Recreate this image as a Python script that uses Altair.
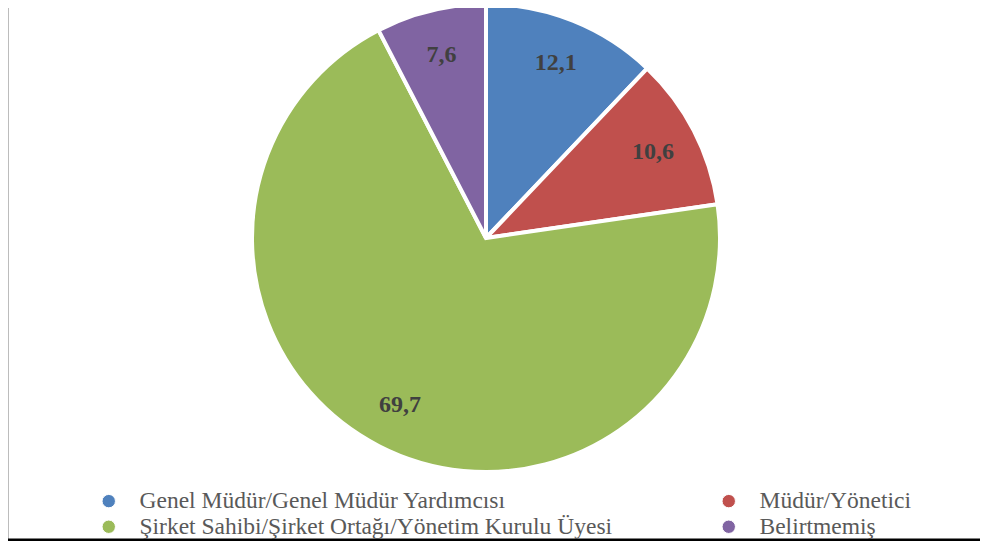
import altair as alt
import pandas as pd

categories = [
    "Genel Müdür/Genel Müdür Yardımcısı",
    "Müdür/Yönetici",
    "Şirket Sahibi/Şirket Ortağı/Yönetim Kurulu Üyesi",
    "Belirtmemiş",
]
values = [12.1, 10.6, 69.7, 7.6]
labels = ["12,1", "10,6", "69,7", "7,6"]
colors = ["#4F81BD", "#C0504D", "#9BBB59", "#8064A2"]

# legend is laid out column by column: put entries so rows read as in the reference
legend_order = [categories[0], categories[2], categories[1], categories[3]]
legend_colors = [colors[0], colors[2], colors[1], colors[3]]

df = pd.DataFrame({
    "cat": categories,
    "value": values,
    "label": labels,
    "order": list(range(len(categories))),
})

W, H = 972, 533
CX, CY = 478, 230

base = alt.Chart(df).encode(
    theta=alt.Theta("value:Q", stack=True),
    order=alt.Order("order:Q"),
    x=alt.value(CX),
    y=alt.value(CY),
)

pie = base.mark_arc(outerRadius=234, stroke="white", strokeWidth=4).encode(
    color=alt.Color(
        "cat:N",
        scale=alt.Scale(domain=legend_order, range=legend_colors),
        legend=alt.Legend(
            title=None,
            orient="none",
            legendX=89,
            legendY=481,
            columns=2,
            columnPadding=104,
            rowPadding=1,
            symbolType="circle",
            symbolSize=180,
            symbolStrokeColor="white",
            symbolStrokeWidth=1,
            labelFont="Liberation Serif",
            labelFontSize=23.5,
            labelColor="#595959",
            labelOffset=19,
            labelLimit=0,
        ),
    )
)

text = base.mark_text(
    radius=188,
    font="Liberation Serif",
    fontSize=24,
    fontWeight="bold",
    color="#404040",
).encode(text="label:N")

frame_df = pd.DataFrame({"k": [0]})
left_line = alt.Chart(frame_df).mark_rule(color="#a6a6a6", strokeWidth=1.5).encode(
    x=alt.value(0), y=alt.value(0), y2=alt.value(H)
)
bottom_line = alt.Chart(frame_df).mark_rule(color="#000000", strokeWidth=3).encode(
    x=alt.value(0), x2=alt.value(W), y=alt.value(H - 1)
)

chart = alt.layer(pie, text, left_line, bottom_line).properties(
    width=W,
    height=H,
    autosize=alt.AutoSizeParams(type="none"),
    padding=0,
).configure_view(stroke=None)

chart.save("out.html", embed_options={"renderer": "svg", "actions": False})
